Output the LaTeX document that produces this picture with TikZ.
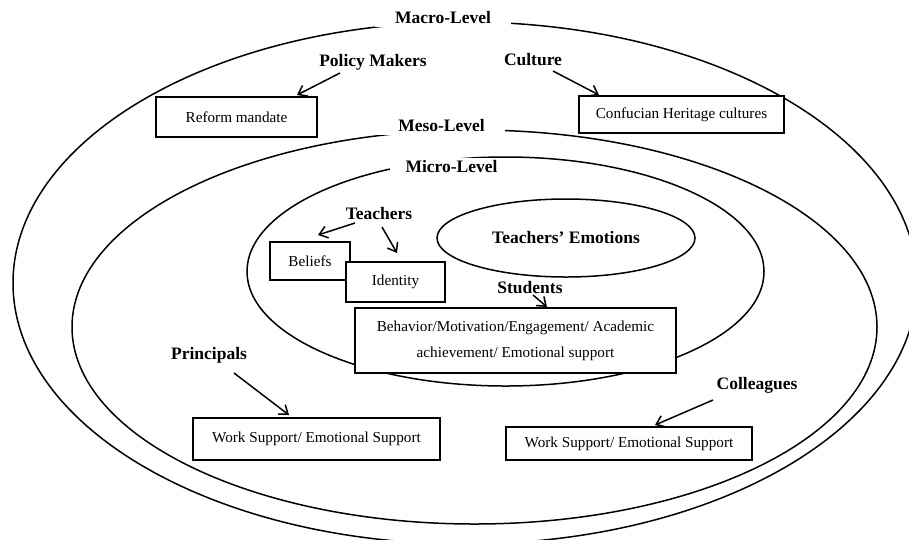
\documentclass[tikz,border=0pt]{standalone}
\usepackage{fontspec}
\setmainfont{Liberation Serif}
\usetikzlibrary{shapes.geometric, arrows.meta, calc}

\begin{document}
\begin{tikzpicture}[
    x=1pt, y=-1pt,
    ring/.style={draw, ellipse, line width=1.5pt, inner sep=0pt},
    box/.style={draw, rectangle, fill=white, line width=1.7pt, inner sep=0pt, align=center, font=\fontsize{15.2}{26}\selectfont},
    lbl/.style={font=\fontsize{17.5}{20}\selectfont\bfseries},
    lvl/.style={lbl, fill=white, inner xsep=20pt, inner ysep=3pt},
    arrow/.style={-{Straight Barb[length=8pt,width=12pt]}, line width=1.5pt},
]
\useasboundingbox (0,0) rectangle (909,539);

% Levels
\node[ring, minimum width=904pt, minimum height=522pt] (macro) at (465,283) {};
\node[ring, minimum width=805pt, minimum height=394pt] (meso) at (474.5,327) {};
\node[ring, minimum width=517pt, minimum height=229pt] (micro) at (505.5,271.5) {};
\node[ring, lbl, minimum width=258pt, minimum height=78pt] (emotions) at (566,238) {Teachers’ Emotions};

\node[lvl] (macrolbl) at (443,18) {Macro-Level};
\node[lvl] (mesolbl) at (441.5,126) {Meso-Level};
\node[lvl, inner xsep=16pt] (microlbl) at (451.5,167) {Micro-Level};

% Macro-level sources
\node[lbl] (policy) at (373,62) {Policy Makers};
\node[lbl] (culture) at (533,60) {Culture};
\node[box, minimum width=161pt, minimum height=40pt] (reform) at (236.5,117) {Reform mandate};
\node[box, minimum width=205pt, minimum height=37pt] (confucian) at (681.5,114.5) {Confucian Heritage cultures};

% Micro-level sources
\node[lbl] (teachers) at (379,214) {Teachers};
\node[box, minimum width=80pt, minimum height=38pt] (beliefs) at (310,261) {Beliefs};
\node[box, minimum width=99pt, minimum height=40pt] (identity) at (395.5,282) {Identity};
\node[lbl] (students) at (530,288) {Students};
\node[box, minimum width=321pt, minimum height=65pt] (studbox) at (515.5,340.5) {Behavior/Motivation/Engagement/ Academic\\achievement/ Emotional support};

% Meso-level sources
\node[lbl] (principals) at (209,355) {Principals};
\node[box, minimum width=247pt, minimum height=42pt] (prinbox) at (316.5,439) {Work Support/ Emotional Support};
\node[lbl] (colleagues) at (757,385) {Colleagues};
\node[box, minimum width=246pt, minimum height=33pt] (colbox) at (629,443.5) {Work Support/ Emotional Support};

% Arrows
\draw[arrow] ($(policy)+(-33,11)$) -- ($(reform)+(60.5,-22)$);
\draw[arrow] ($(culture)+(20,11)$) -- ($(confucian)+(-82.5,-19.5)$);
\draw[arrow] ($(teachers)+(-24,9)$) -- ($(beliefs)+(8,-26)$);
\draw[arrow] ($(teachers)+(3,13)$) -- ($(identity)+(1.5,-29)$);
\draw[arrow] ($(students)+(3,7)$) -- ($(studbox)+(31.5,-33.5)$);
\draw[arrow] ($(principals)+(25,18)$) -- ($(prinbox)+(-27.5,-24)$);
\draw[arrow] ($(colleagues)+(-44,15)$) -- ($(colbox)+(26,-18.5)$);

\end{tikzpicture}
\end{document}
